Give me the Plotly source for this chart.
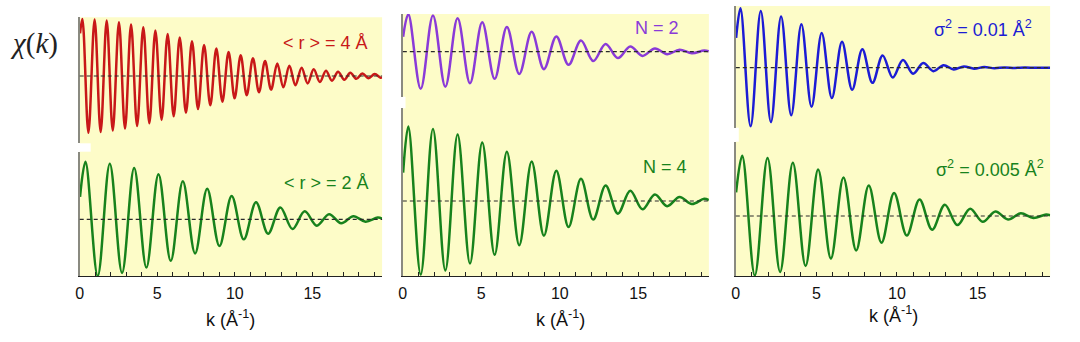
import plotly.graph_objects as go

# ------------------------------------------------------------------
# DATA: start point, successive extrema, end
# ------------------------------------------------------------------
# left panel, <r> = 4 Å (red)
red_k = [0.02, 0.17, 0.56, 0.96, 1.35, 1.74, 2.13, 2.53, 2.92, 3.31, 3.70,
         4.10, 4.49, 4.88, 5.28, 5.67, 6.06, 6.45, 6.85, 7.24, 7.63,
         8.02, 8.42, 8.81, 9.20, 9.60, 9.99, 10.38, 10.77, 11.17, 11.56,
         11.95, 12.34, 12.74, 13.13, 13.52, 13.91, 14.31, 14.70, 15.09, 15.49,
         15.88, 16.27, 16.66, 17.06, 17.45, 17.84, 18.23, 18.63, 19.02, 19.41, 19.5]
red_chi = [0.75, 1.0, -0.997, 0.992, -0.983, 0.972, -0.958, 0.942, -0.923, 0.902, -0.879,
           0.854, -0.827, 0.799, -0.770, 0.739, -0.708, 0.676, -0.644, 0.611, -0.579,
           0.546, -0.514, 0.482, -0.451, 0.421, -0.391, 0.363, -0.336, 0.310, -0.285,
           0.261, -0.239, 0.218, -0.198, 0.179, -0.162, 0.146, -0.131, 0.118, -0.105,
           0.094, -0.083, 0.074, -0.065, 0.057, -0.050, 0.044, -0.038, 0.033, -0.029, -0.022]

# left panel, <r> = 2 Å (green)
r2_k = [0.02, 0.37, 1.16, 1.94, 2.73, 3.51, 4.30, 5.08, 5.87, 6.65, 7.44,
        8.22, 9.01, 9.80, 10.58, 11.37, 12.15, 12.94, 13.72, 14.51, 15.29,
        16.08, 16.86, 17.65, 18.43, 19.22, 19.5]
r2_chi = [0.39, 1.0, -0.987, 0.965, -0.932, 0.891, -0.840, 0.785, -0.723, 0.660, -0.594,
          0.530, -0.466, 0.405, -0.349, 0.297, -0.250, 0.207, -0.170, 0.138, -0.111,
          0.088, -0.069, 0.054, -0.041, 0.031, 0.013]

# middle panel, N = 2 (purple) and N = 4 (green)
mid_k = [0.02, 0.35, 1.14, 1.92, 2.71, 3.49, 4.28, 5.06, 5.85, 6.63, 7.42,
         8.21, 8.99, 9.78, 10.56, 11.35, 12.13, 12.92, 13.70, 14.49, 15.27,
         16.06, 16.84, 17.63, 18.42, 19.20, 19.5]
n2_chi = [0.20, 0.500, -0.494, 0.483, -0.466, 0.446, -0.420, 0.393, -0.362, 0.330, -0.297,
          0.265, -0.233, 0.203, -0.175, 0.149, -0.125, 0.104, -0.085, 0.069, -0.056,
          0.044, -0.035, 0.027, -0.021, 0.016, 0.006]
n4_chi = [0.38, 1.0, -0.987, 0.965, -0.932, 0.891, -0.840, 0.785, -0.723, 0.660, -0.594,
          0.530, -0.466, 0.405, -0.349, 0.297, -0.250, 0.207, -0.170, 0.138, -0.111,
          0.088, -0.069, 0.054, -0.041, 0.031, 0.011]

# right panel, sigma^2 = 0.01 (blue)
s01_k = [0.02, 0.29, 0.92, 1.55, 2.18, 2.81, 3.44, 4.07, 4.70, 5.33, 5.96,
         6.59, 7.22, 7.85, 8.48, 9.11, 9.74, 10.37, 11.00, 11.63, 12.26,
         12.89, 13.52, 14.15, 14.78, 15.41, 16.04, 16.67, 17.30, 17.93, 18.56, 19.19, 19.5]
s01_chi = [0.50, 0.998, -0.984, 0.955, -0.914, 0.861, -0.799, 0.730, -0.657, 0.583, -0.509,
           0.438, -0.371, 0.310, -0.255, 0.207, -0.165, 0.130, -0.100, 0.077, -0.058,
           0.043, -0.031, 0.022, -0.016, 0.011, -0.008, 0.005, -0.003, 0.002, -0.001, 0.001, 0.0]

# right panel, sigma^2 = 0.005 (green)
s005_k = [0.02, 0.40, 1.18, 1.97, 2.75, 3.54, 4.33, 5.11, 5.90, 6.68, 7.47,
          8.25, 9.04, 9.82, 10.61, 11.40, 12.18, 12.97, 13.75, 14.54, 15.32,
          16.11, 16.89, 17.68, 18.46, 19.25, 19.5]
s005_chi = [0.39, 1.0, -0.986, 0.962, -0.927, 0.882, -0.829, 0.770, -0.706, 0.640, -0.572,
            0.506, -0.442, 0.381, -0.324, 0.273, -0.227, 0.186, -0.151, 0.121, -0.096,
            0.075, -0.058, 0.044, -0.033, 0.025, 0.013]

labels_top = ["&lt; r &gt; = 4 Å", "N = 2", "σ<sup>2</sup> = 0.01 Å<sup>2</sup>"]
labels_bot = ["&lt; r &gt; = 2 Å", "N = 4", "σ<sup>2</sup> = 0.005 Å<sup>2</sup>"]
tick_vals = [0, 5, 10, 15]
tick_text = ["0", "5", "10", "15"]
minor_step = 1
x_title = "k (Å<sup>-1</sup>)"
K_RANGE = [0, 19.5]

# ------------------------------------------------------------------
# STYLE / LAYOUT
# ------------------------------------------------------------------
W, H = 1080, 342
def px(x): return x / W
def py(y): return 1 - y / H

RED, GREEN, PURPLE, BLUE = "#c81818", "#17821c", "#8a3ad8", "#1c1cd4"
YELLOW = "#fdfcc8"
FONT = "Liberation Sans"

series_top = [(red_k, red_chi, RED), (mid_k, n2_chi, PURPLE), (s01_k, s01_chi, BLUE)]
series_bot = [(r2_k, r2_chi, GREEN), (mid_k, n4_chi, GREEN), (s005_k, s005_chi, GREEN)]

panels = [
    dict(x0=76, x1=379.5, top=17.3, n0=143.3, n1=151.7, bottom=276,
         tz=76, tu=57, bz=219.3, bu=57.5, nx1=87,
         lt=(322.5, 42.7), lb=(323.5, 182.7), tt=(227.5, 318.3), tcol=(RED, GREEN)),
    dict(x0=400.3, x1=707.5, top=14, n0=96.7, n1=108.3, bottom=276,
         tz=51.7, tu=75, bz=201, bu=74.5, nx1=403,
         lt=(655.5, 27.7), lb=(663.7, 166.7), tt=(559, 318), tcol=(PURPLE, GREEN)),
    dict(x0=734.5, x1=1050, top=6, n0=127.7, n1=141.7, bottom=276,
         tz=67.7, tu=59.5, bz=216, bu=60.3, nx1=737.5,
         lt=(982.5, 29), lb=(990, 168), tt=(892.5, 314), tcol=(BLUE, GREEN)),
]

fig = go.Figure()
layout = {}
shapes = []
annotations = []

def ax_name(kind, n):
    return f"{kind}axis" if n == 1 else f"{kind}axis{n}"

def ax_ref(kind, n):
    return kind if n == 1 else f"{kind}{n}"

for i, p in enumerate(panels):
    nb = 2 * i + 1      # bottom subplot axes
    nt = 2 * i + 2      # top subplot axes
    xdom = [px(p["x0"]), px(p["x1"])]

    # bottom x axis (visible)
    layout[ax_name("x", nb)] = dict(
        domain=xdom, range=K_RANGE, anchor=ax_ref("y", nb),
        showline=True, linecolor="#222", linewidth=1.2,
        ticks="inside", ticklen=4, tickwidth=1, tickcolor="#222",
        tickmode="array", tickvals=tick_vals, ticktext=tick_text,
        minor=dict(tickmode="linear", tick0=0, dtick=minor_step, ticks="inside",
                   ticklen=4, tickwidth=1, tickcolor="#222", showgrid=False),
        tickfont=dict(family=FONT, size=16, color="#111"),
        ticklabelstandoff=3,
        showgrid=False, zeroline=False, fixedrange=True)
    # top x axis (hidden, same scale)
    layout[ax_name("x", nt)] = dict(
        domain=xdom, range=K_RANGE, anchor=ax_ref("y", nt), visible=False,
        showgrid=False, zeroline=False, fixedrange=True)

    # y axes
    yb_dom = [py(p["bottom"]), py(p["n1"])]
    yt_dom = [py(p["n0"]), py(p["top"])]
    yb_rng = [-(p["bottom"] - p["bz"]) / p["bu"], (p["bz"] - p["n1"]) / p["bu"]]
    yt_rng = [-(p["n0"] - p["tz"]) / p["tu"], (p["tz"] - p["top"]) / p["tu"]]
    for n, dom, rng in ((nb, yb_dom, yb_rng), (nt, yt_dom, yt_rng)):
        layout[ax_name("y", n)] = dict(
            domain=dom, range=rng, anchor=ax_ref("x", n),
            showline=True, linecolor="#8a8a80", linewidth=1.6,
            ticks="", showticklabels=False, showgrid=False, zeroline=False,
            fixedrange=True)

    # background panel + notch
    shapes.append(dict(type="rect", xref="paper", yref="paper",
                       x0=px(p["x0"]), x1=px(p["x1"]), y0=py(p["bottom"]), y1=py(p["top"]),
                       fillcolor=YELLOW, line=dict(width=0), layer="below"))
    shapes.append(dict(type="rect", xref="paper", yref="paper",
                       x0=px(p["x0"] - 3), x1=px(p["nx1"]), y0=py(p["n1"]), y1=py(p["n0"]),
                       fillcolor="white", line=dict(width=0), layer="below"))

    # curves
    for n, (kk, cc, col) in ((nt, series_top[i]), (nb, series_bot[i])):
        fig.add_trace(go.Scatter(
            x=kk, y=cc, mode="lines", xaxis=ax_ref("x", n), yaxis=ax_ref("y", n),
            line=dict(color=col, width=2.5, shape="spline", smoothing=1.0),
            showlegend=False, hoverinfo="skip"))
        # dashed zero line
        shapes.append(dict(type="line", xref=f"{ax_ref('x', n)} domain", x0=0, x1=1,
                           yref=ax_ref("y", n), y0=0, y1=0,
                           line=dict(color="#2a2a2a", width=1.2, dash="4px,3px"),
                           layer="above"))

    # curve labels
    for (cx, cy), txt, col in ((p["lt"], labels_top[i], p["tcol"][0]),
                               (p["lb"], labels_bot[i], p["tcol"][1])):
        annotations.append(dict(x=px(cx), y=py(cy), xref="paper", yref="paper",
                                text=txt, showarrow=False, xanchor="center", yanchor="middle",
                                font=dict(family=FONT, size=18, color=col)))
    # x-axis title
    annotations.append(dict(x=px(p["tt"][0]), y=py(p["tt"][1]), xref="paper", yref="paper",
                            text=x_title, showarrow=False, xanchor="center", yanchor="middle",
                            font=dict(family=FONT, size=18, color="#111")))

# y-axis label
annotations.append(dict(x=px(30), y=py(43), xref="paper", yref="paper",
                        text="<i>χ</i>(<i>k</i>)", showarrow=False,
                        xanchor="center", yanchor="middle",
                        font=dict(family="Liberation Serif", size=29, color="#222")))

fig.update_layout(
    width=W, height=H, margin=dict(l=0, r=0, t=0, b=0),
    paper_bgcolor="white", plot_bgcolor="rgba(0,0,0,0)",
    showlegend=False, shapes=shapes, annotations=annotations, **layout)

fig.write_html("out.html")
